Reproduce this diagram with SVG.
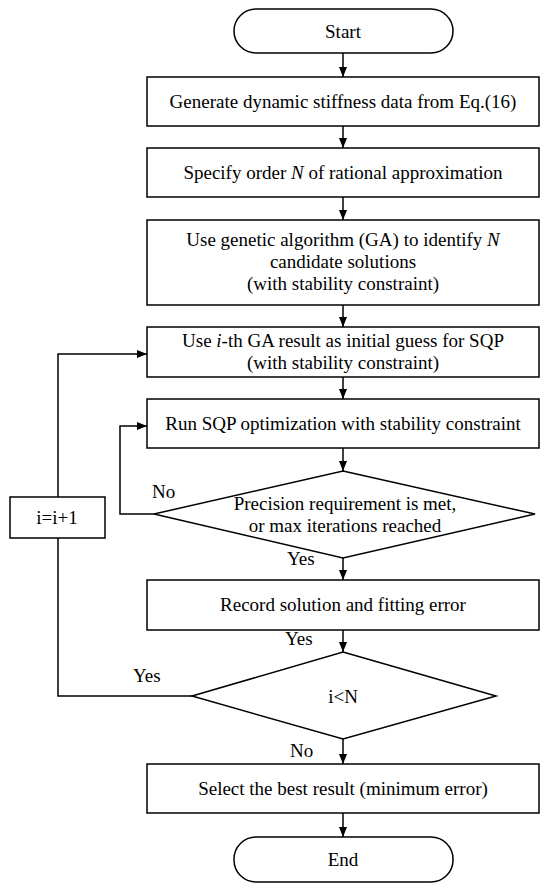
<svg xmlns="http://www.w3.org/2000/svg" width="550" height="889" viewBox="0 0 550 889">
<style>
.s{fill:#fff;stroke:#000;stroke-width:1.5}
.t{font-family:"Liberation Serif","Times New Roman",serif;font-size:19px;fill:#000;text-anchor:middle}
.l{font-family:"Liberation Serif","Times New Roman",serif;font-size:19px;fill:#000}
.c{fill:none;stroke:#000;stroke-width:1.5}
</style>
<defs>
<marker id="ah" viewBox="0 0 10 10" refX="10" refY="5" markerWidth="10" markerHeight="10" markerUnits="userSpaceOnUse" orient="auto">
<path d="M0,1 L10,5 L0,9 Z" fill="#000"/>
</marker>
</defs>
<rect width="550" height="889" fill="#fff"/>
<g id="connectors">
<line class="c" x1="343" y1="53" x2="343" y2="77" marker-end="url(#ah)"/>
<line class="c" x1="343" y1="126" x2="343" y2="148" marker-end="url(#ah)"/>
<line class="c" x1="343" y1="197" x2="343" y2="220" marker-end="url(#ah)"/>
<line class="c" x1="343" y1="305" x2="343" y2="327" marker-end="url(#ah)"/>
<line class="c" x1="343" y1="377" x2="343" y2="399" marker-end="url(#ah)"/>
<line class="c" x1="343" y1="448" x2="343" y2="471" marker-end="url(#ah)"/>
<line class="c" x1="343" y1="558" x2="343" y2="580" marker-end="url(#ah)"/>
<line class="c" x1="343" y1="630" x2="343" y2="652" marker-end="url(#ah)"/>
<line class="c" x1="343" y1="739" x2="343" y2="764" marker-end="url(#ah)"/>
<line class="c" x1="343" y1="813" x2="343" y2="837" marker-end="url(#ah)"/>
<polyline class="c" points="154,514 120,514 120,426 147,426" marker-end="url(#ah)"/>
<polyline class="c" points="192,696 58,696 58,538"/>
<polyline class="c" points="58,497 58,354 147,354" marker-end="url(#ah)"/>
<text class="l" x="152" y="498">No</text>
<text class="l" x="287" y="565">Yes</text>
<text class="l" x="285" y="645">Yes</text>
<text class="l" x="133" y="682">Yes</text>
<text class="l" x="290" y="757">No</text>
</g>
<g id="start">
<rect class="s" x="234" y="9" width="219" height="44" rx="22" ry="22"/>
<text class="t" x="343" y="38">Start</text>
</g>
<g id="generate">
<rect class="s" x="147" y="77" width="392" height="49"/>
<text class="t" x="343" y="108">Generate dynamic stiffness data from Eq.(16)</text>
</g>
<g id="specify">
<rect class="s" x="147" y="148" width="392" height="49"/>
<text class="t" x="343" y="179">Specify order <tspan font-style="italic">N</tspan> of rational approximation</text>
</g>
<g id="ga">
<rect class="s" x="147" y="220" width="392" height="85"/>
<text class="t" x="343" y="246">Use genetic algorithm (GA) to identify <tspan font-style="italic">N</tspan></text>
<text class="t" x="343" y="268">candidate solutions</text>
<text class="t" x="343" y="290">(with stability constraint)</text>
</g>
<g id="initial">
<rect class="s" x="147" y="327" width="392" height="50"/>
<text class="t" x="343" y="347">Use <tspan font-style="italic">i</tspan>-th GA result as initial guess for SQP</text>
<text class="t" x="343" y="369">(with stability constraint)</text>
</g>
<g id="sqp">
<rect class="s" x="147" y="399" width="392" height="49"/>
<text class="t" x="343" y="430">Run SQP optimization with stability constraint</text>
</g>
<g id="precision">
<polygon class="s" points="343,471 535,514 343,558 154,514"/>
<text class="t" x="345" y="510">Precision requirement is met,</text>
<text class="t" x="345" y="532">or max iterations reached</text>
</g>
<g id="record">
<rect class="s" x="147" y="580" width="392" height="50"/>
<text class="t" x="343" y="611">Record solution and fitting error</text>
</g>
<g id="iltn">
<polygon class="s" points="343,652 496,696 343,739 192,696"/>
<text class="t" x="343" y="703">i&lt;N</text>
</g>
<g id="increment">
<rect class="s" x="10" y="497" width="95" height="41"/>
<text class="t" x="57" y="524">i=i+1</text>
</g>
<g id="select">
<rect class="s" x="147" y="764" width="392" height="49"/>
<text class="t" x="343" y="795">Select the best result (minimum error)</text>
</g>
<g id="end">
<rect class="s" x="234" y="837" width="219" height="45" rx="22" ry="22"/>
<text class="t" x="343" y="866">End</text>
</g>
</svg>
